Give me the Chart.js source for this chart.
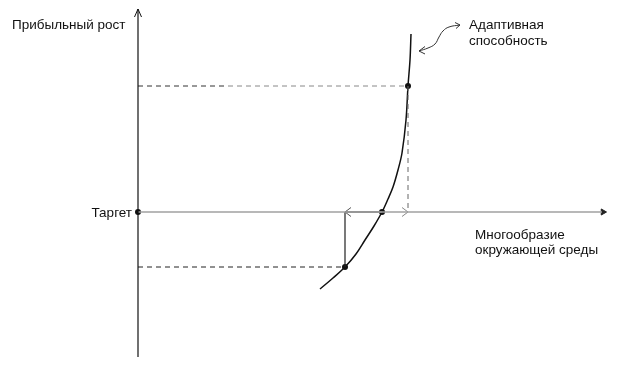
<!DOCTYPE html>
<html>
<head>
<meta charset="utf-8">
<script src="https://cdn.jsdelivr.net/npm/chart.js@4/dist/chart.umd.min.js"></script>
<style>
html,body{margin:0;padding:0;background:#fff;}
#wrap{width:632px;height:367px;}
</style>
</head>
<body>
<div id="wrap"><canvas id="c" width="632" height="367"></canvas></div>
<script>
// Conceptual diagram, abstract units (axis origin = Target)
const curveX = [18.2, 19.5, 20.7, 21.8, 22.7, 23.6, 24.4, 25.0, 25.5, 26.0, 26.4, 26.8, 27.0, 27.2, 27.3];
const curveY = [-7.7, -6.6, -5.5, -4.2, -2.8, -1.4, 0, 1.3, 2.5, 4.2, 5.9, 9.2, 12.6, 15.2, 17.8];
const markX = [0, 24.4, 20.7, 27.0];
const markY = [0, 0, -5.5, 12.6];
const markNames = ["Таргет", "Равновесие", "Низ", "Верх"];
const curlyX = [28.1, 29.0, 29.7, 30.1, 30.5, 31.1, 32.2];
const curlyY = [16.1, 16.4, 16.8, 17.5, 18.1, 18.5, 18.7];
const axisLabels = ["Прибыльный рост", "Таргет", "Многообразие", "окружающей среды", "Адаптивная", "способность"];

const pts = (xs, ys) => xs.map((x, i) => ({x: x, y: ys[i]}));
const line = (data, color, width, dash, extra) => Object.assign({
  data: data, showLine: true, borderColor: color, backgroundColor: color,
  borderWidth: width, borderDash: dash || [], pointRadius: 0, tension: 0, fill: false
}, extra || {});

const datasets = [
  // y axis + arrowhead
  line(pts([0, 0], [-14.5, 20.3]), '#111', 1.2),
  line(pts([-0.35, 0, 0.35], [19.5, 20.3, 19.5]), '#111', 1),
  // x axis (gray) + filled arrowhead
  line(pts([0, 46.4], [0, 0]), '#a0a0a0', 1.6),
  {data: pts([46.5], [0]), showLine: false, pointStyle: 'triangle', rotation: 90, pointRadius: 3.5,
   backgroundColor: '#222', borderColor: '#222', borderWidth: 1},
  // dark segment between lower point and equilibrium
  line(pts([markX[2], markX[1]], [0, 0]), '#555', 1.4),
  line(pts([markX[2] + 0.6, markX[2], markX[2] + 0.6], [0.45, 0, -0.45]), '#555', 1),
  line(pts([markX[3] - 0.6, markX[3], markX[3] - 0.6], [0.45, 0, -0.45]), '#888', 1),
  // dashed guides
  line(pts([0, 9.0], [markY[3], markY[3]]), '#333', 1, [5, 4]),
  line(pts([9.0, markX[3]], [markY[3], markY[3]]), '#888', 1, [5, 4]),
  line(pts([markX[3], markX[3]], [markY[3], 0]), '#666', 1, [5, 4]),
  line(pts([0, markX[2]], [markY[2], markY[2]]), '#222', 1, [5, 4]),
  // solid vertical drop
  line(pts([markX[2], markX[2]], [0, markY[2]]), '#222', 1.2),
  // curve
  line(pts(curveX, curveY), '#111', 1.5, [], {tension: 0.35}),
  // curly double arrow
  line(pts(curlyX, curlyY), '#333', 1, [], {tension: 0.45}),
  line(pts([28.7, 28.1, 28.7], [16.55, 16.1, 15.8]), '#333', 1),
  line(pts([31.7, 32.2, 31.8], [18.95, 18.7, 18.35]), '#333', 1),
  // marks
  {data: pts(markX, markY), showLine: false, pointRadius: 3, pointHoverRadius: 3,
   backgroundColor: '#111', borderColor: '#111', borderWidth: 0, label: 'marks'}
];

const textPlugin = {
  id: 'texts',
  afterDraw(chart) {
    const ctx = chart.ctx, sx = chart.scales.x, sy = chart.scales.y;
    ctx.save();
    ctx.fillStyle = '#111';
    ctx.font = '13.5px "Liberation Sans", Arial, sans-serif';
    ctx.textBaseline = 'alphabetic';
    const put = (t, x, y, align) => { ctx.textAlign = align; ctx.fillText(t, sx.getPixelForValue(x), sy.getPixelForValue(y)); };
    put(axisLabels[0], -12.6, 18.3, 'left');
    put(axisLabels[1], -0.6, -0.45, 'right');
    put(axisLabels[2], 33.7, -2.65, 'left');
    put(axisLabels[3], 33.7, -4.2, 'left');
    put(axisLabels[4], 33.1, 18.3, 'left');
    put(axisLabels[5], 33.1, 16.7, 'left');
    ctx.restore();
  }
};

new Chart(document.getElementById('c'), {
  type: 'scatter',
  data: {datasets: datasets},
  options: {
    responsive: false,
    animation: false,
    layout: {padding: 0, autoPadding: false},
    plugins: {legend: {display: false}, tooltip: {enabled: false}},
    events: [],
    scales: {
      x: {type: 'linear', min: -13.8, max: 49.4, display: false},
      y: {type: 'linear', min: -15.5, max: 21.2, display: false}
    }
  },
  plugins: [textPlugin]
});
</script>
</body>
</html>
